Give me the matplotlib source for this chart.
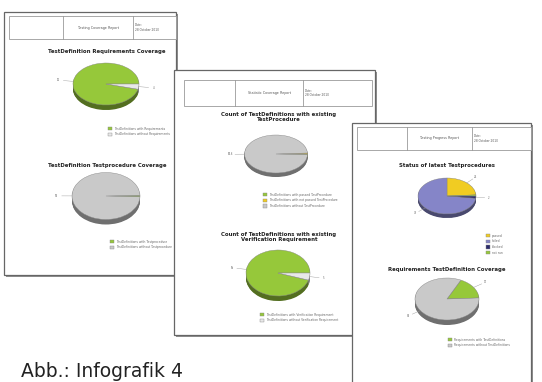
import matplotlib
matplotlib.use("Agg")
import matplotlib.pyplot as plt
from matplotlib.patches import Rectangle
import matplotlib.colors as mcolors
import numpy as np

W, H = 542, 382

# ---------------- data ----------------
p1_header = "Testing Coverage Report"
p2_header = "Statistic Coverage Report"
p3_header = "Testing Progress Report"
date_text = "Date:\n28 October 2010"

c1_title = "TestDefinition Requirements Coverage"
c1_labels = ["TestDefinitions with Requirements", "TestDefinitions without Requirements"]
c1_values = [96, 4]

c2_title = "TestDefinition Testprocedure Coverage"
c2_labels = ["TestDefinitions with Testprocedure", "TestDefinitions without Testprocedure"]
c2_values = [1, 99]

c3_title = "Count of TestDefinitions with existing\nTestProcedure"
c3_labels = ["TestDefinitions with passed TestProcedure",
             "TestDefinitions with not passed TestProcedure",
             "TestDefinitions without TestProcedure"]
c3_values = [0.6, 0.8, 98.6]

c4_title = "Count of TestDefinitions with existing\nVerification Requirement"
c4_labels = ["TestDefinitions with Verification Requirement",
             "TestDefinitions without Verification Requirement"]
c4_values = [95, 5]

c5_title = "Status of latest Testprocedures"
c5_labels = ["passed", "failed", "blocked", "not run"]
c5_values = [24, 73, 2, 1]

c6_title = "Requirements TestDefinition Coverage"
c6_labels = ["Requirements with TestDefinitions", "Requirements without TestDefinitions"]
c6_values = [17, 83]

caption = "Abb.: Infografik 4"

GREEN = "#96c83a"
GRAY = "#c9c9c9"
LIGHT = "#e8e8e8"
LAV = "#8585c8"
YEL = "#f0cc22"
NAVY = "#2a2a6a"

fig = plt.figure(figsize=(W / 100, H / 100), dpi=100)
fig.patch.set_facecolor("white")


def canvas(z):
    ax = fig.add_axes([0, 0, 1, 1], zorder=z)
    ax.set_xlim(0, W)
    ax.set_ylim(H, 0)
    ax.axis("off")
    ax.patch.set_alpha(0)
    return ax


def page(ax, x0, y0, x1, y1, hx0, hy0, hx1, hy1, d1, d2, header):
    ax.add_patch(Rectangle((x0 + 2, y0 + 2), x1 - x0, y1 - y0, facecolor="#909090",
                           edgecolor="none"))
    ax.add_patch(Rectangle((x0, y0), x1 - x0, y1 - y0, facecolor="white",
                           edgecolor="#666666", lw=0.9))
    ax.add_patch(Rectangle((hx0, hy0), hx1 - hx0, hy1 - hy0, facecolor="white",
                           edgecolor="#9a9a9a", lw=0.6))
    ax.plot([d1, d1], [hy0, hy1], color="#9a9a9a", lw=0.6)
    ax.plot([d2, d2], [hy0, hy1], color="#9a9a9a", lw=0.6)
    ax.text((d1 + d2) / 2, (hy0 + hy1) / 2, header, fontsize=2.4, color="#555",
            ha="center", va="center")
    ax.text(d2 + 2, (hy0 + hy1) / 2, date_text, fontsize=2.1, color="#555",
            ha="left", va="center", linespacing=1.3)


def darker(c, f=0.55):
    r, g, b = mcolors.to_rgb(c)
    return (r * f, g * f, b * f)


def pie3d(cx, cy, rx, ry, z, values, colors, labels, startangle, depth,
          legx, legy, val_text=True):
    S = 1.9
    ax = fig.add_axes([(cx - rx * S) / W, 1 - (cy + ry * S) / H,
                       2 * rx * S / W, 2 * ry * S / H], zorder=z)
    d = depth / ry
    for off in np.linspace(-d, 0, 8)[:-1]:
        ax.pie(values, colors=[darker(c) for c in colors], startangle=startangle,
               center=(0, off), radius=1, wedgeprops=dict(linewidth=0))
    wedges, _ = ax.pie(values, colors=colors, startangle=startangle, radius=1,
                       wedgeprops=dict(linewidth=0.3, edgecolor="#888"))
    ax.set_aspect("auto")
    ax.set_xlim(-S, S)
    ax.set_ylim(-S, S)
    ax.axis("off")
    if val_text:
        for w, v in zip(wedges, values):
            if v < 2:
                continue
            a = np.deg2rad((w.theta1 + w.theta2) / 2)
            x0, y0 = np.cos(a), np.sin(a)
            ax.plot([x0 * 1.0, x0 * 1.3], [y0 * 1.0, y0 * 1.3], color="#999", lw=0.3)
            ax.text(x0 * 1.45, y0 * 1.45, f"{v:g}", fontsize=1.8, color="#666",
                    ha="center", va="center")
    ax.legend(wedges, labels, loc="upper left",
              bbox_to_anchor=(legx / W, 1 - legy / H), bbox_transform=fig.transFigure,
              fontsize=2.2, frameon=False, handlelength=1.3, handleheight=1.3,
              labelspacing=0.55, handletextpad=0.8, borderpad=0, labelcolor="#666")
    return ax


def title(ax, x, y, t):
    ax.text(x, y, t, fontsize=3.9, fontweight="bold", color="#222", ha="center",
            va="center", linespacing=1.2)


# ---------- page 1 ----------
a1 = canvas(1)
page(a1, 4, 12, 176, 275, 9, 16, 176, 39, 63, 133, p1_header)
title(a1, 107, 52, c1_title)
title(a1, 107, 165, c2_title)
pie3d(106, 84, 33, 21, 2, c1_values, [GREEN, LIGHT], c1_labels, 0, 5, 106, 125)
pie3d(106, 196, 34, 23.5, 2, c2_values, [GREEN, GRAY], c2_labels, -2, 5, 108, 238)

# ---------- page 2 ----------
a2 = canvas(3)
page(a2, 174, 70, 375, 335, 184, 80, 372, 106, 235, 303, p2_header)
title(a2, 279, 117, c3_title)
title(a2, 279, 237, c4_title)
pie3d(276, 154, 31.5, 19, 4, c3_values, [GREEN, YEL, GRAY], c3_labels, -2, 4, 261, 191)
pie3d(278, 273, 32, 23, 4, c4_values, [GREEN, LIGHT], c4_labels, 0, 5, 258, 311)

# ---------- page 3 ----------
a3 = canvas(5)
page(a3, 352, 123, 531, 392, 357, 127, 531, 150, 407, 472, p3_header)
title(a3, 447, 165, c5_title)
title(a3, 447, 269, c6_title)
pie3d(447, 196, 29, 18, 6, c5_values, [YEL, LAV, NAVY, GREEN], c5_labels, 3.6, 4,
      484, 232)
pie3d(447, 299, 32, 21, 6, c6_values, [GREEN, GRAY], c6_labels, 3, 5, 446, 336)

# ---------- caption ----------
a4 = canvas(7)
a4.text(21, 377, caption, fontsize=13.5, color="#222", ha="left", va="baseline")

fig.savefig("out.png", dpi=100, facecolor="white")
